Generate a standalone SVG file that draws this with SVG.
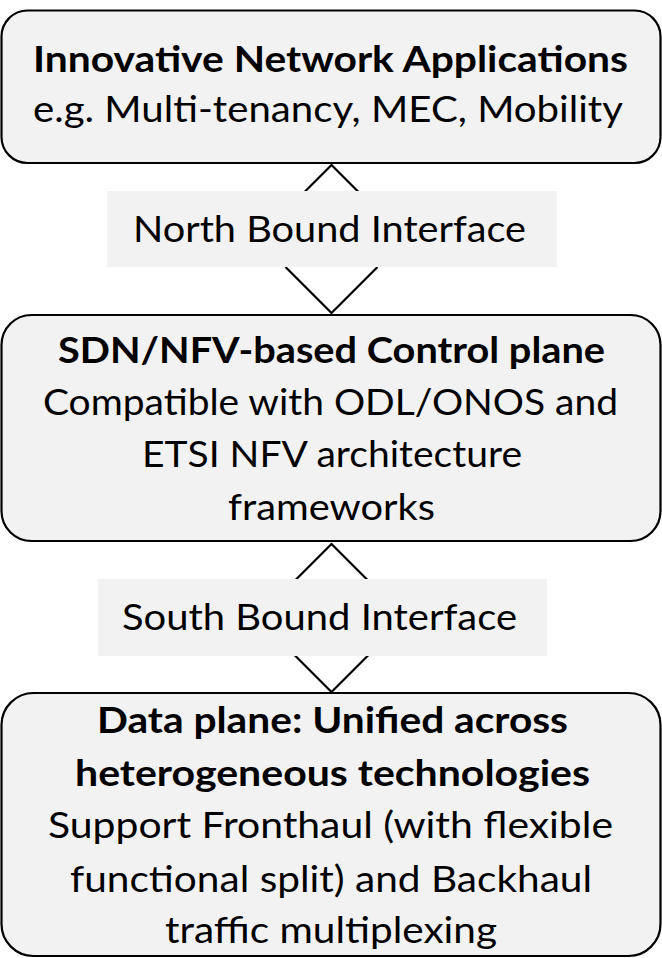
<svg xmlns="http://www.w3.org/2000/svg" width="662" height="958" viewBox="0 0 662 958">
  <style>
    .box { fill: #f2f2f2; stroke: #000; stroke-width: 2.2; }
    .lbl { fill: #f2f2f2; stroke: none; }
    .arm { fill: none; stroke: #000; stroke-width: 2.2; stroke-linejoin: miter; }
    text { font-family: Lato, "Open Sans", "Liberation Sans", sans-serif; font-size: 36px; fill: #000; }
    .b { font-weight: 700; }
  </style>
  <rect width="662" height="958" fill="#fff"/>

  <g id="node-applications">
    <rect class="box" x="1.5" y="10.5" width="659" height="152.5" rx="26" ry="26"/>
    <text class="b" x="33" y="72" textLength="595" lengthAdjust="spacingAndGlyphs">Innovative Network Applications</text>
    <text x="33" y="122" textLength="590" lengthAdjust="spacingAndGlyphs">e.g. Multi-tenancy, MEC, Mobility</text>
  </g>

  <g id="node-control-plane">
    <rect class="box" x="1.5" y="315" width="659" height="226" rx="30" ry="30"/>
    <text class="b" x="58" y="363" textLength="547" lengthAdjust="spacingAndGlyphs">SDN/NFV-based Control plane</text>
    <text x="43" y="415" textLength="575" lengthAdjust="spacingAndGlyphs">Compatible with ODL/ONOS and</text>
    <text x="142" y="467" textLength="380" lengthAdjust="spacingAndGlyphs">ETSI NFV architecture</text>
    <text x="228" y="520" textLength="207" lengthAdjust="spacingAndGlyphs">frameworks</text>
  </g>

  <g id="node-data-plane">
    <rect class="box" x="1.5" y="693" width="659" height="263" rx="32" ry="32"/>
    <text class="b" x="97" y="733" textLength="471" lengthAdjust="spacingAndGlyphs">Data plane: Unified across</text>
    <text class="b" x="75" y="786" textLength="515" lengthAdjust="spacingAndGlyphs">heterogeneous technologies</text>
    <text x="48" y="838" textLength="565" lengthAdjust="spacingAndGlyphs">Support Fronthaul (with flexible</text>
    <text x="70" y="892" textLength="522" lengthAdjust="spacingAndGlyphs">functional split) and Backhaul</text>
    <text x="165" y="943" textLength="332" lengthAdjust="spacingAndGlyphs">traffic multiplexing</text>
  </g>

  <g id="connectors">
    <polyline class="arm" points="285.5,211 331.5,165 377.5,211"/>
    <polyline class="arm" points="285.5,267 331.5,313 377.5,267"/>
    <polyline class="arm" points="285.5,590 331.5,544 377.5,590"/>
    <polyline class="arm" points="285.5,646 331.5,692 377.5,646"/>
  </g>

  <g id="label-north-bound">
    <rect class="lbl" x="107" y="191" width="450" height="76"/>
    <text x="133" y="242" textLength="393" lengthAdjust="spacingAndGlyphs">North Bound Interface</text>
  </g>

  <g id="label-south-bound">
    <rect class="lbl" x="98" y="579" width="449" height="77"/>
    <text x="122" y="630" textLength="395" lengthAdjust="spacingAndGlyphs">South Bound Interface</text>
  </g>
</svg>
